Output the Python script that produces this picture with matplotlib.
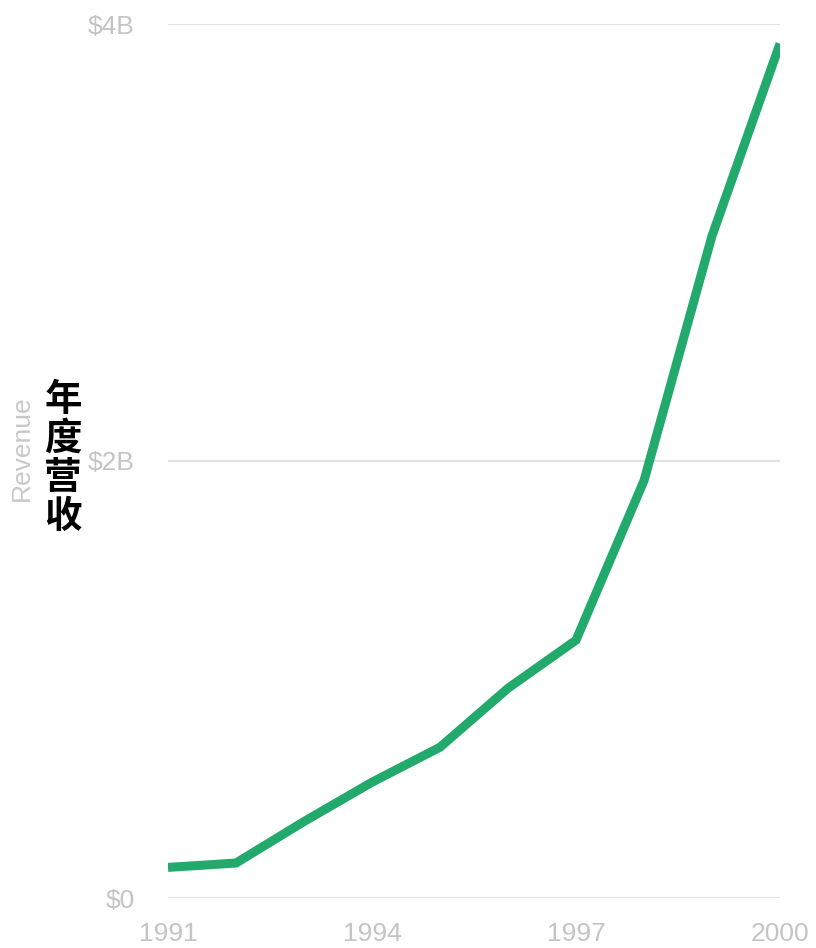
import matplotlib.pyplot as plt

years = [1991, 1992, 1993, 1994, 1995, 1996, 1997, 1998, 1999, 2000]
revenue_b = [0.14, 0.16, 0.35, 0.53, 0.69, 0.96, 1.18, 1.91, 3.03, 3.91]

x_ticks = [1991, 1994, 1997, 2000]
y_ticks = [0, 2, 4]
y_tick_labels = ["$0", "$2B", "$4B"]

plt.rcParams["font.family"] = ["Liberation Sans", "DejaVu Sans"]

fig = plt.figure(figsize=(8.16, 9.48), dpi=100)
ax = fig.add_axes([168 / 816, 50 / 948, 612 / 816, 874 / 948])

ax.plot(years, revenue_b, color="#22a96c", lw=6.5, solid_joinstyle="miter",
        solid_capstyle="butt", zorder=3)

ax.set_xlim(1991, 2000)
ax.set_ylim(0, 4)
ax.set_xticks(x_ticks)
ax.set_xticklabels([str(y) for y in x_ticks])
ax.set_yticks(y_ticks)
ax.set_yticklabels(y_tick_labels)
ax.tick_params(axis="both", length=0, labelsize=19, labelcolor="#c4c4c4")
ax.tick_params(axis="x", pad=17)
ax.tick_params(axis="y", pad=24)

ax.grid(axis="y", color="#e2e2e2", lw=1.5)
ax.set_axisbelow(True)
for s in ax.spines.values():
    s.set_visible(False)

fig.text(22 / 816, 500 / 948, "Revenue", rotation=90, ha="center", va="center",
         fontsize=19, color="#c8c8c8")
fig.text(63 / 816, 490 / 948, "年\n度\n营\n收", ha="center", va="center",
         fontsize=27, fontweight="bold", color="black", linespacing=1.0,
         family=["Noto Sans CJK SC", "DejaVu Sans"])

fig.savefig("out.png", dpi=100)
